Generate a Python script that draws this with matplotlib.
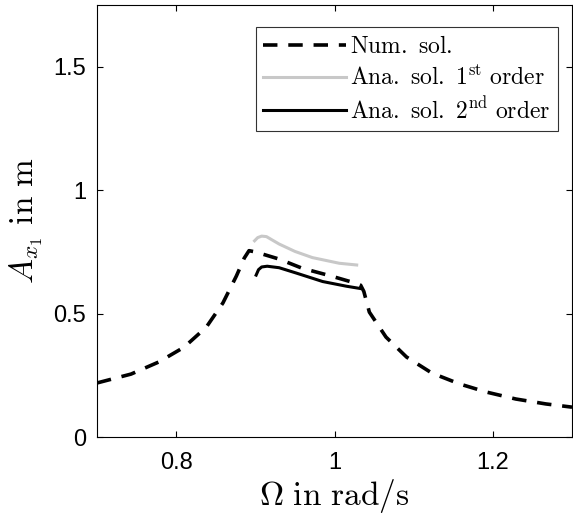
import matplotlib
matplotlib.use("Agg")
import matplotlib.pyplot as plt
import numpy as np

plt.rcParams['mathtext.fontset'] = 'cm'

# Numerical solution (frequency sweep)
num_omega = [0.700, 0.743, 0.778, 0.810, 0.838, 0.859, 0.876, 0.886, 0.892, 0.900,
             0.930, 0.959, 0.996, 1.025, 1.033, 1.037, 1.044, 1.065, 1.091, 1.123,
             1.158, 1.192, 1.229, 1.267, 1.300]
num_amp = [0.219, 0.255, 0.304, 0.364, 0.445, 0.543, 0.652, 0.725, 0.755, 0.750,
           0.721, 0.684, 0.652, 0.625, 0.615, 0.590, 0.506, 0.405, 0.324, 0.259,
           0.215, 0.182, 0.154, 0.134, 0.121]

# Analytical solution, first order
ana1_omega = [0.899, 0.903, 0.908, 0.914, 0.930, 0.950, 0.972, 1.006, 1.028]
ana1_amp = [0.795, 0.808, 0.814, 0.812, 0.782, 0.752, 0.727, 0.704, 0.697]

# Analytical solution, second order
ana2_omega = [0.901, 0.904, 0.908, 0.915, 0.930, 0.952, 0.985, 1.015, 1.032]
ana2_amp = [0.656, 0.678, 0.689, 0.692, 0.686, 0.664, 0.630, 0.611, 0.602]

x_ticks = [0.8, 1.0, 1.2]
x_ticklabels = ['0.8', '1', '1.2']
y_ticks = [0, 0.5, 1.0, 1.5]
y_ticklabels = ['0', '0.5', '1', '1.5']

fig = plt.figure(figsize=(5.73, 5.21), dpi=100)
ax = fig.add_axes([0.1693, 0.1612, 0.8290, 0.8290])

ax.plot(num_omega, num_amp, color='black', lw=2.6, dashes=(4.0, 3.0),
        label=r'$\mathrm{Num.\ sol.}$', solid_capstyle='butt')
ax.plot(ana1_omega, ana1_amp, color='#c8c8c8', lw=2.2,
        label=r'$\mathrm{Ana.\ sol.\ 1^{st}\ order}$')
ax.plot(ana2_omega, ana2_amp, color='black', lw=2.2,
        label=r'$\mathrm{Ana.\ sol.\ 2^{nd}\ order}$')

ax.set_xlim(0.7, 1.3)
ax.set_ylim(0, 1.75)
ax.set_xticks(x_ticks)
ax.set_xticklabels(x_ticklabels)
ax.set_yticks(y_ticks)
ax.set_yticklabels(y_ticklabels)
ax.tick_params(direction='in', length=4, width=0.8, top=True, right=True,
               labelsize=17, pad=8)
ax.tick_params(axis='x', pad=11)
for lab in ax.get_xticklabels() + ax.get_yticklabels():
    lab.set_fontfamily('Liberation Sans')
for sp in ax.spines.values():
    sp.set_linewidth(0.8)

ax.set_xlabel(r'$\Omega\ \mathrm{in\ rad/s}$', fontsize=24, labelpad=2)
ax.set_ylabel(r'$A_{x_1}\ \mathrm{in\ m}$', fontsize=24, labelpad=6)

leg = ax.legend(loc='upper right', bbox_to_anchor=(0.97, 0.95), fontsize=17,
                frameon=True, fancybox=False, edgecolor='black',
                handlelength=3.5, handletextpad=0.2, borderpad=0.3,
                labelspacing=0.32, borderaxespad=0.0)
leg.get_frame().set_linewidth(0.8)

fig.savefig('out.png', dpi=100)
